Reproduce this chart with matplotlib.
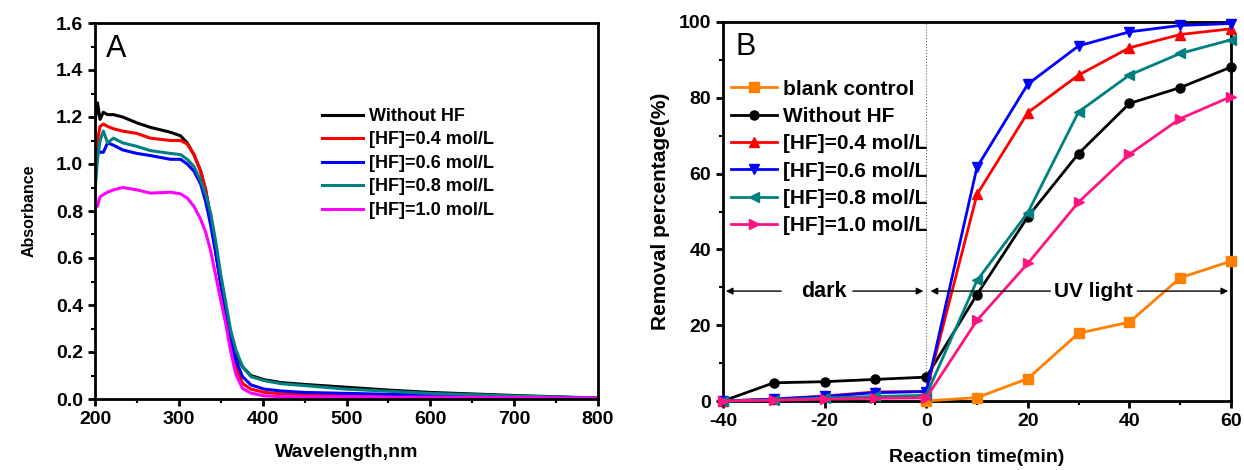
import matplotlib
matplotlib.use("Agg")
import matplotlib.pyplot as plt
from matplotlib.ticker import MultipleLocator, FormatStrFormatter

plt.rcParams['font.family'] = ['Liberation Sans', 'DejaVu Sans']
plt.rcParams['font.weight'] = 'bold'
plt.rcParams['axes.unicode_minus'] = False

nan = float('nan')

# ---- panel A: UV-vis absorbance ----
wavelength = [200, 203, 206, 210, 215, 222, 233, 250, 266, 290, 302, 310, 318, 326, 332, 338,
              344, 350, 356, 362, 368, 376, 386, 402, 422, 450, 500, 550, 600, 700, 800]
abs_without_hf = [1.18, 1.26, 1.19, 1.22, 1.21, 1.21, 1.20, 1.175, 1.156, 1.135, 1.12, 1.09, 1.04, 0.97, 0.89, 0.77,
                  0.63, 0.49, 0.38, 0.28, 0.19, 0.137, 0.10, 0.082, 0.07, 0.062, 0.05, 0.038, 0.028, 0.015, 0.004]
abs_hf04 = [1.00, 1.10, 1.16, 1.17, 1.16, 1.15, 1.14, 1.13, 1.11, 1.10, 1.10, 1.085, 1.04, 0.97, 0.89, 0.77,
            0.63, 0.49, 0.37, 0.25, 0.137, 0.066, 0.042, 0.028, 0.022, 0.019, 0.015, 0.012, 0.01, 0.007, 0.004]
abs_hf06 = [0.97, 1.06, 1.05, 1.05, 1.09, 1.08, 1.06, 1.045, 1.036, 1.02, 1.02, 1.00, 0.97, 0.915, 0.84, 0.74,
            0.62, 0.49, 0.38, 0.265, 0.166, 0.095, 0.06, 0.042, 0.034, 0.028, 0.024, 0.02, 0.017, 0.01, 0.004]
abs_hf08 = [0.88, 1.02, 1.10, 1.14, 1.09, 1.11, 1.09, 1.075, 1.057, 1.045, 1.04, 1.02, 0.99, 0.93, 0.87, 0.79,
            0.67, 0.53, 0.41, 0.29, 0.21, 0.137, 0.095, 0.078, 0.065, 0.057, 0.042, 0.033, 0.024, 0.013, 0.004]
abs_hf10 = [0.86, 0.82, 0.86, 0.87, 0.88, 0.89, 0.90, 0.89, 0.876, 0.88, 0.873, 0.855, 0.82, 0.765, 0.71, 0.63,
            0.525, 0.42, 0.32, 0.20, 0.105, 0.045, 0.025, 0.013, 0.01, 0.009, 0.009, 0.008, 0.008, 0.006, 0.004]

# ---- panel B: removal percentage ----
time_min = [-40, -30, -20, -10, 0, 10, 20, 30, 40, 50, 60]
blank_control = [nan, nan, nan, nan, 0, 0.9, 5.9, 17.9, 20.8, 32.5, 36.9]
rem_without_hf = [0, 4.8, 5.1, 5.7, 6.3, 28.1, 48.6, 65.3, 78.5, 82.7, 88.1]
rem_hf04 = [0, 0.5, 1.3, 2.4, 2.5, 54.5, 76.1, 86.0, 93.2, 96.7, 98.2]
rem_hf06 = [0, 0.5, 1.2, 2.2, 2.5, 61.7, 83.6, 93.7, 97.4, 99.1, 99.6]
rem_hf08 = [0, 0.3, 0.8, 1.2, 1.5, 31.8, 49.7, 76.3, 86.0, 91.7, 95.3]
rem_hf10 = [0, 0.2, 0.5, 0.7, 0.8, 21.3, 36.3, 52.5, 65.1, 74.5, 80.3]

labels_a = ['Without HF', '[HF]=0.4 mol/L', '[HF]=0.6 mol/L', '[HF]=0.8 mol/L', '[HF]=1.0 mol/L']
labels_b = ['blank control'] + labels_a

fig = plt.figure(figsize=(12.44, 4.70), dpi=100)
axA = fig.add_axes([95 / 1244, 71 / 470, 503 / 1244, 376 / 470])
axB = fig.add_axes([723 / 1244, 69 / 470, 508 / 1244, 379 / 470])


def style_axis(ax):
    for s in ax.spines.values():
        s.set_linewidth(2)
    ax.tick_params(which='major', direction='out', length=5, width=2, labelsize=14,
                   top=False, right=False)
    ax.tick_params(which='minor', direction='out', length=3, width=1.5, top=False, right=False)
    for t in ax.get_xticklabels() + ax.get_yticklabels():
        t.set_fontweight('bold')


colors_a = ['black', '#FF0000', '#0000FF', '#008080', '#FF00FF']
series_a = [abs_without_hf, abs_hf04, abs_hf06, abs_hf08, abs_hf10]
for ys, c, lab in zip(series_a, colors_a, labels_a):
    axA.plot(wavelength, ys, color=c, lw=2.2, label=lab)
axA.set_xlim(200, 800)
axA.set_ylim(0, 1.6)
axA.xaxis.set_major_locator(MultipleLocator(100))
axA.xaxis.set_minor_locator(MultipleLocator(50))
axA.yaxis.set_major_locator(MultipleLocator(0.2))
axA.yaxis.set_minor_locator(MultipleLocator(0.1))
axA.yaxis.set_major_formatter(FormatStrFormatter('%.1f'))
style_axis(axA)
axA.set_xlabel('Wavelength,nm', fontsize=14, fontweight='bold', labelpad=12)
axA.set_ylabel('Absorbance', fontsize=11.5, fontweight='bold', labelpad=14)
axA.text(0.022, 0.931, 'A', transform=axA.transAxes, fontsize=22, fontweight='normal', va='center')
axA.legend(loc='upper left', bbox_to_anchor=(0.451, 0.774), frameon=False, fontsize=13,
           handlelength=2.3, handletextpad=0.33, labelspacing=0.36, borderaxespad=0, borderpad=0)

colors_b = ['#FF8000', 'black', '#FF0000', '#0000FF', '#008080', '#FF1480']
markers_b = ['s', 'o', '^', 'v', '<', '>']
series_b = [blank_control, rem_without_hf, rem_hf04, rem_hf06, rem_hf08, rem_hf10]
for ys, c, m, lab in zip(series_b, colors_b, markers_b, labels_b):
    axB.plot(time_min, ys, color=c, marker=m, ms=6.5, lw=2, label=lab, clip_on=False, zorder=3)
axB.axvline(0, color='#666666', lw=0.8, ls=':', zorder=1)
axB.set_xlim(-40, 60)
axB.set_ylim(0, 100)
axB.xaxis.set_major_locator(MultipleLocator(20))
axB.xaxis.set_minor_locator(MultipleLocator(10))
axB.yaxis.set_major_locator(MultipleLocator(20))
axB.yaxis.set_minor_locator(MultipleLocator(10))
style_axis(axB)
axB.set_xlabel('Reaction time(min)', fontsize=14, fontweight='bold', labelpad=14)
axB.set_ylabel('Removal percentage(%)', fontsize=15, fontweight='bold', labelpad=6)
axB.text(0.024, 0.933, 'B', transform=axB.transAxes, fontsize=22, fontweight='normal', va='center')
axB.legend(loc='upper left', bbox_to_anchor=(0.016, 0.848), frameon=False, fontsize=15,
           handlelength=2.2, handletextpad=0.3, labelspacing=0.4, borderaxespad=0, borderpad=0)

# dark / UV light arrows
arrow_kw = dict(arrowstyle='-|>', color='black', lw=1, mutation_scale=10)
axB.annotate('', xy=(-40, 29), xytext=(-28, 29), arrowprops=arrow_kw)
axB.annotate('', xy=(0, 29), xytext=(-15, 29), arrowprops=arrow_kw)
axB.text(-20.2, 29, 'dark', ha='center', va='center', fontsize=15.5, fontweight='bold')
axB.annotate('', xy=(0.3, 29), xytext=(25, 29), arrowprops=arrow_kw)
axB.annotate('', xy=(60, 29), xytext=(41, 29), arrowprops=arrow_kw)
axB.text(33, 29, 'UV light', ha='center', va='center', fontsize=15, fontweight='bold')

fig.savefig('out.png', dpi=100)
